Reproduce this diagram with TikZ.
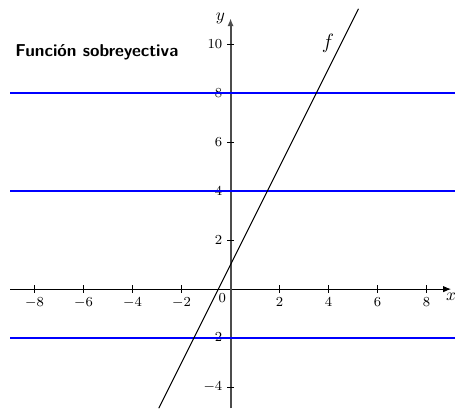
\documentclass[tikz,border=0pt]{standalone}
\usepackage{amsmath}
\usepackage{tikz}
\usetikzlibrary{arrows.meta, calc, positioning}

\begin{document}
\begin{tikzpicture}[
    x=0.5cm, y=0.5cm,
    axis/.style={-{Latex[length=1.6mm, width=1.3mm]}, semithick},
    yaxis/.style={axis, very thick, draw=black!70, fill=black!70},
    hline/.style={draw=blue, line width=0.95pt},
    graph/.style={draw=black, semithick},
    ticklab/.style={font=\footnotesize, inner sep=2.5pt},
    title/.style={font=\sffamily\bfseries, anchor=west, inner sep=0pt}
]
\useasboundingbox (-9.41,-4.86) rectangle (9.16,11.80);
\coordinate (xmin) at (-9,0);
\coordinate (xmax) at (9,0);
\coordinate (ymin) at (0,-4.86);
\coordinate (ymax) at (0,11.05);
\draw[axis] (xmin) -- (xmax) node[below, inner sep=2pt] (xlab) {$x$};
\draw[yaxis] (ymin) -- (ymax);
\node[left, inner sep=3pt] (ylab) at (ymax) {$y$};
\foreach \v [count=\i] in {-8,-6,-4,-2,2,4,6,8}
    \draw (\v,0.15) -- (\v,-0.15) node[below, ticklab] (xt\i) {$\v$};
\foreach \v [count=\i] in {-4,-2,2,4,6,8,10}
    \draw (0.15,\v) -- (-0.15,\v) node[left, ticklab] (yt\i) {$\v$};
\node[ticklab, anchor=north east] (orig) at (0,0) {$0$};
% rectas horizontales
\foreach \h [count=\i] in {8,4,-2}
    \draw[hline] (-9,\h) coordinate (hl\i) -- (9.16,\h) coordinate (hr\i);
% grafica de f
\coordinate (fa) at (-2.93,-4.86);
\coordinate (fb) at (5.22,11.44);
\draw[graph] (fa) -- (fb);
\node[font=\large] (flab) at (3.98,10.04) {$f$};
\node[title] (ttl) at (-8.8,9.67) {Función sobreyectiva};
\end{tikzpicture}
\end{document}
